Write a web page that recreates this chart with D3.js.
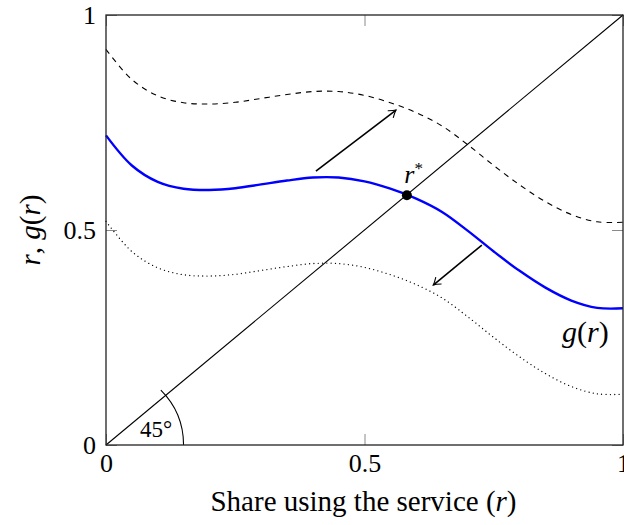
<!DOCTYPE html>
<html>
  <head>
    <script src="https://cdnjs.cloudflare.com/ajax/libs/d3/7.8.5/d3.min.js" charset="utf-8"></script>
    <style>
      body { margin: 0; background: #fff; }
      text { font-family: "Liberation Serif", "DejaVu Serif", serif; }
    </style>
  </head>
  <body>

    <script>

      // share using the service, r
      var shares = [0, 0.05, 0.10, 0.15, 0.20, 0.25, 0.30, 0.35, 0.40, 0.45, 0.50,
                    0.55, 0.60, 0.65, 0.70, 0.75, 0.80, 0.85, 0.90, 0.95, 1.00];

      // g(r), the solid blue curve
      var gValues = [0.720, 0.650, 0.612, 0.596, 0.593, 0.597, 0.606, 0.615, 0.622, 0.622, 0.613,
                     0.596, 0.573, 0.542, 0.498, 0.450, 0.405, 0.366, 0.336, 0.319, 0.318];

      // shifted up (dashed)
      var gUpper = [0.920, 0.850, 0.812, 0.796, 0.793, 0.797, 0.806, 0.815, 0.822, 0.822, 0.813,
                    0.796, 0.773, 0.742, 0.698, 0.650, 0.605, 0.566, 0.536, 0.519, 0.518];

      // shifted down (dotted)
      var gLower = [0.520, 0.450, 0.412, 0.396, 0.393, 0.397, 0.406, 0.415, 0.422, 0.422, 0.413,
                    0.396, 0.373, 0.342, 0.298, 0.250, 0.205, 0.166, 0.136, 0.119, 0.118];

      var tickValues = [0, 0.5, 1];
      var tickLabels = ["0", "0.5", "1"];

      // fixed point and the two shift arrows [r0, v0, r1, v1]
      var fixedPoint = [0.582, 0.581];
      var arrows = [[0.406, 0.637, 0.561, 0.779],
                    [0.727, 0.465, 0.633, 0.372]];

      var width = 624, height = 525;
      var plotLeft = 106, plotRight = 623, plotTop = 15, plotBottom = 445;

      var svg = d3.select("body").append("svg")
        .attr("width", width)
        .attr("height", height);

      var x = d3.scaleLinear().domain([0, 1]).range([plotLeft, plotRight]);
      var y = d3.scaleLinear().domain([0, 1]).range([plotBottom, plotTop]);

      var defs = svg.append("defs");
      defs.append("marker")
        .attr("id", "head")
        .attr("viewBox", "-10 -6 12 12")
        .attr("refX", 0).attr("refY", 0)
        .attr("markerWidth", 12).attr("markerHeight", 12)
        .attr("markerUnits", "userSpaceOnUse")
        .attr("orient", "auto")
        .append("path")
        .attr("d", "M-7,-4.5 Q-2.5,-1 0,0 Q-2.5,1 -7,4.5")
        .attr("fill", "none")
        .attr("stroke", "#000")
        .attr("stroke-width", 1.1);

      //Axes (ticks point inward, labels outside)
      var fmt = function (d) { return tickLabels[tickValues.indexOf(d)]; };

      svg.append("g")
        .attr("transform", "translate(0," + plotBottom + ")")
        .call(d3.axisBottom(x).tickValues(tickValues).tickFormat(fmt).tickSize(-11).tickPadding(9));
      svg.append("g")
        .attr("transform", "translate(" + plotLeft + ",0)")
        .call(d3.axisLeft(y).tickValues(tickValues).tickFormat(fmt).tickSize(-11).tickPadding(10));
      svg.append("g")
        .attr("transform", "translate(0," + plotTop + ")")
        .call(d3.axisTop(x).tickValues(tickValues).tickFormat("").tickSize(-11));
      svg.append("g")
        .attr("transform", "translate(" + plotRight + ",0)")
        .call(d3.axisRight(y).tickValues(tickValues).tickFormat("").tickSize(-11));

      svg.selectAll(".domain").remove();
      svg.selectAll(".tick line").attr("stroke", "#8a8a8a").attr("stroke-width", 1);
      svg.selectAll(".tick text")
        .style("font-family", "'Liberation Serif', serif")
        .attr("font-size", 26)
        .attr("fill", "#000");

      // 45 degree line
      svg.append("line")
        .attr("x1", x(0)).attr("y1", y(0))
        .attr("x2", x(1)).attr("y2", y(1))
        .attr("stroke", "#000").attr("stroke-width", 1.1);

      // angle arc
      var R = x(0.15) - x(0);
      var p = d3.path();
      p.moveTo(x(0) + R, y(0));
      p.arc(x(0), y(0), R, 0, -Math.PI / 4, true);
      svg.append("path").attr("d", p.toString())
        .attr("fill", "none").attr("stroke", "#000").attr("stroke-width", 1.1);

      svg.append("text")
        .attr("x", x(0.097)).attr("y", y(0.019))
        .attr("text-anchor", "middle")
        .attr("font-size", 23)
        .text("45°");

      var line = d3.line()
        .x(function (d, i) { return x(shares[i]); })
        .y(function (d) { return y(d); })
        .curve(d3.curveCatmullRom);

      svg.append("path").datum(gUpper)
        .attr("d", line)
        .attr("fill", "none").attr("stroke", "#000")
        .attr("stroke-width", 1.1).attr("stroke-dasharray", "5.5,5");

      svg.append("path").datum(gLower)
        .attr("d", line)
        .attr("fill", "none").attr("stroke", "#000")
        .attr("stroke-width", 1.3).attr("stroke-dasharray", "0.01,4.3")
        .attr("stroke-linecap", "round");

      svg.append("path").datum(gValues)
        .attr("d", line)
        .attr("fill", "none").attr("stroke", "#0000ff")
        .attr("stroke-width", 2.4);

      // frame
      svg.append("rect")
        .attr("x", plotLeft).attr("y", plotTop)
        .attr("width", plotRight - plotLeft).attr("height", plotBottom - plotTop)
        .attr("fill", "none").attr("stroke", "#222").attr("stroke-width", 1.3);

      // arrows
      svg.selectAll(".shift").data(arrows).enter().append("line")
        .attr("class", "shift")
        .attr("x1", function (d) { return x(d[0]); })
        .attr("y1", function (d) { return y(d[1]); })
        .attr("x2", function (d) { return x(d[2]); })
        .attr("y2", function (d) { return y(d[3]); })
        .attr("stroke", "#000").attr("stroke-width", 1.6)
        .attr("marker-end", "url(#head)");

      // fixed point r*
      svg.append("circle")
        .attr("cx", x(fixedPoint[0])).attr("cy", y(fixedPoint[1]))
        .attr("r", 5).attr("fill", "#000");

      var rs = svg.append("text")
        .attr("x", x(0.577)).attr("y", y(0.609))
        .attr("font-size", 26);
      rs.append("tspan").attr("font-style", "italic").text("r");
      rs.append("tspan").attr("font-size", 17).attr("dy", -9).text("*");

      var gl = svg.append("text")
        .attr("x", x(0.882)).attr("y", y(0.24))
        .attr("font-size", 30);
      gl.append("tspan").attr("font-style", "italic").text("g");
      gl.append("tspan").text("(");
      gl.append("tspan").attr("font-style", "italic").text("r");
      gl.append("tspan").text(")");

      // axis labels
      var xl = svg.append("text")
        .attr("x", (plotLeft + plotRight) / 2 - 1).attr("y", 511)
        .attr("text-anchor", "middle")
        .attr("font-size", 29);
      xl.append("tspan").text("Share using the service (");
      xl.append("tspan").attr("font-style", "italic").text("r");
      xl.append("tspan").text(")");

      var yl = svg.append("text")
        .attr("transform", "translate(40,230) rotate(-90)")
        .attr("text-anchor", "middle")
        .attr("font-size", 29);
      yl.append("tspan").attr("font-style", "italic").text("r");
      yl.append("tspan").text(", ");
      yl.append("tspan").attr("font-style", "italic").text("g");
      yl.append("tspan").text("(");
      yl.append("tspan").attr("font-style", "italic").text("r");
      yl.append("tspan").text(")");

    </script>
  </body>
</html>
